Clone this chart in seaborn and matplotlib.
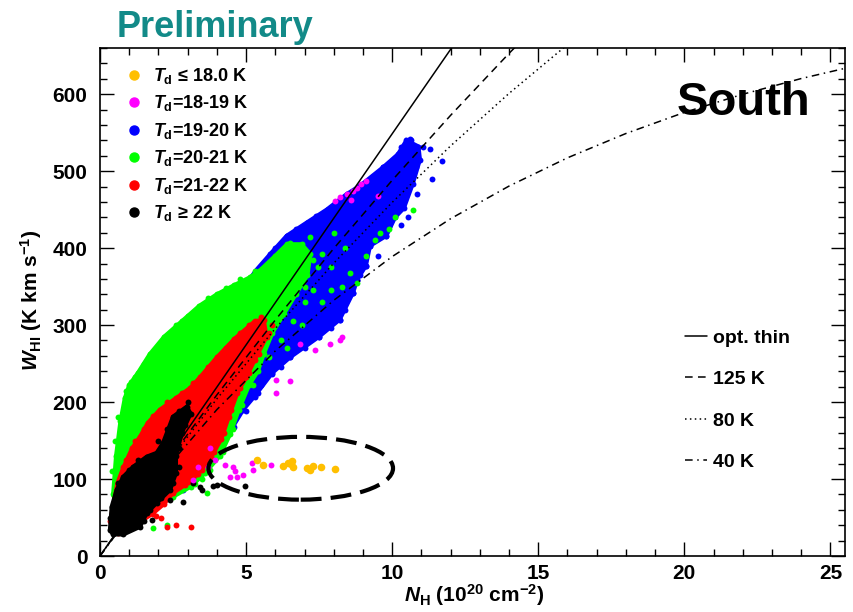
import numpy as np
import pandas as pd
import matplotlib
matplotlib.use("Agg")
import matplotlib.pyplot as plt
import seaborn as sns
from matplotlib.patches import Ellipse
from matplotlib.ticker import MultipleLocator

# ---------------------------------------------------------------- data
groups = ["le18", "18-19", "19-20", "20-21", "21-22", "ge22"]
group_labels = [r"$T_{\mathrm{d}}$ ≤ 18.0 K", r"$T_{\mathrm{d}}$=18-19 K",
                r"$T_{\mathrm{d}}$=19-20 K", r"$T_{\mathrm{d}}$=20-21 K",
                r"$T_{\mathrm{d}}$=21-22 K", r"$T_{\mathrm{d}}$ ≥ 22 K"]
group_colors = ["#ffbf00", "#ff00ff", "#0000ff", "#00ff00", "#ff0000", "#000000"]

# dense regions of each dust-temperature bin (N_H [1e20 cm^-2], W_HI [K km/s])
blue_core_nh = [1.5, 2.5, 3.5, 4.5, 5.13, 5.36, 5.82, 6.39, 7.07, 7.76, 8.44, 8.9, 9.69,
                10.2, 10.49, 10.9, 10.95, 10.7, 10.4, 10.1, 9.8, 9.24, 9.1, 8.8, 8.66,
                8.2, 7.5, 6.5, 5.9, 5.3, 4.9, 4.5, 4.0, 3.5, 3.0, 2.5, 1.5]
blue_core_w = [160, 250, 310, 340, 360, 372, 392, 416, 433, 450, 470, 481, 505,
               522, 540, 532, 515, 483, 452, 440, 416, 403, 377, 359, 342,
               307, 285, 258, 238, 208, 190, 165, 135, 110, 92, 85, 120]

green_core_nh = [0.45, 0.55, 0.7, 0.85, 1.0, 1.3, 1.7, 2.2, 2.8, 3.4, 4.0, 4.6, 5.13,
                 5.5, 6.0, 6.4, 6.9, 7.2, 7.1, 6.7, 6.3, 5.9, 5.6, 5.4, 5.1, 4.75,
                 4.45, 4.1, 3.6, 3.1, 2.5, 2.0, 1.5, 1.0, 0.6]
green_core_w = [80, 130, 175, 205, 222, 238, 262, 285, 305, 325, 340, 352, 362,
                372, 390, 405, 405, 392, 365, 340, 315, 290, 262, 240, 222, 190,
                158, 130, 108, 90, 77, 70, 66, 62, 60]

red_core_nh = [0.35, 0.6, 0.8, 1.1, 1.37, 1.64, 2.05, 2.6, 3.08, 3.42, 4.0, 4.6, 5.3,
               5.6, 5.7, 5.3, 5.0, 4.7, 4.4, 4.15, 3.8, 3.35, 2.9, 2.5, 2.2, 1.8,
               1.2, 0.6]
red_core_w = [45, 95, 115, 140, 155, 173, 190, 205, 218, 232, 258, 282, 305,
              307, 285, 255, 232, 212, 180, 152, 128, 106, 92, 82, 68, 55,
              40, 30]

black_core_nh = [0.34, 0.4, 0.57, 0.8, 1.14, 1.6, 1.94, 2.16, 2.5, 2.97, 3.1, 2.8,
                 2.6, 2.6, 2.4, 1.94, 1.6, 1.37, 0.8, 0.45]
black_core_w = [34, 64, 86, 103, 116, 129, 134, 147, 181, 194, 185, 160,
                130, 108, 86, 69, 56, 38, 28, 28]

# individual points around and outside the dense regions
blue_pts_nh = [10.6, 10.66, 11.05, 11.3, 11.7, 11.35, 10.83, 10.5, 10.0, 10.1, 9.9,
               9.8, 9.24, 9.1, 8.8, 8.66, 8.2, 7.5, 6.5, 5.9, 5.3, 5.0, 4.6,
               3.42, 2.84, 0.8, 9.69, 8.9, 7.76, 7.07, 6.39, 5.82, 5.36, 10.2, 9.6,
               6.0, 6.7, 7.4, 8.1, 9.3, 10.3, 10.85, 10.55, 10.3, 9.5, 8.9, 8.4,
               7.9, 7.0, 6.2, 5.5, 5.4, 4.1, 3.7]
blue_pts_w = [542, 540, 531, 529, 513, 490, 505, 490, 468, 446, 429,
              416, 403, 377, 359, 342, 307, 285, 258, 236, 206, 188, 168,
              105, 86, 112, 505, 481, 450, 433, 416, 390, 368, 520, 490,
              400, 425, 442, 460, 492, 532, 470, 440, 430, 390, 365, 320,
              296, 270, 245, 222, 212, 138, 118]

green_pts_nh = [10.7, 10.1, 9.9, 9.6, 9.4, 9.1, 8.55, 8.8, 8.3, 7.9, 6.5, 6.8, 7.3,
                7.6, 3.65, 3.1, 3.5, 1.8, 2.3, 8.0, 8.4, 7.9, 7.2,
                0.9, 1.05, 1.2, 1.5, 1.9, 2.4, 2.6, 3.0, 3.7, 4.3, 4.8, 5.3, 0.5,
                0.6, 0.4, 7.45, 7.3, 7.0, 6.6, 6.2, 5.8, 5.25, 4.85, 4.55, 4.2,
                3.75, 3.25, 6.9, 7.6, 6.4, 7.0]
green_pts_w = [450, 440, 425, 420, 410, 390, 368, 355, 350, 345, 407, 395, 385,
               392, 82, 121, 100, 36, 40, 420, 400, 375, 415,
               215, 226, 232, 250, 270, 290, 300, 312, 335, 348, 360, 370, 150,
               180, 110, 375, 345, 330, 305, 280, 258, 222, 196, 165, 135,
               112, 94, 300, 330, 270, 350]

red_pts_nh = [2.3, 2.6, 3.1, 1.9, 2.1, 5.9,
              5.5, 5.1, 4.8, 4.3, 3.7, 3.2, 2.8, 2.3, 1.8, 1.5, 1.2, 0.9,
              5.8, 5.45, 5.1, 4.8, 4.5, 4.25, 3.9, 3.5, 3.0]
red_pts_w = [38, 40, 38, 52, 50, 300,
             310, 300, 290, 270, 245, 225, 212, 200, 182, 165, 150, 125,
             290, 262, 238, 218, 190, 160, 135, 112, 96]

black_pts_nh = [1.77, 2.4, 2.84, 3.42, 3.5, 3.87, 4.96, 4.0, 3.2,
                3.0, 2.7, 2.3, 2.0, 1.3, 1.0, 0.6, 0.35, 2.9, 2.7, 2.7, 2.5,
                2.1, 1.7, 1.5]
black_pts_w = [47, 73, 70, 90, 86, 91, 91, 92, 95,
               200, 188, 165, 150, 125, 112, 95, 50, 170, 140, 115, 95,
               75, 60, 45]

magenta_pts_nh = [8.04, 8.2, 8.44, 8.66, 8.8, 8.95, 9.12, 9.5, 8.6,
                  6.04, 6.04, 6.5, 6.84, 7.36, 7.87, 8.2, 8.3,
                  3.18, 3.36, 3.7, 3.76, 3.93, 4.28, 4.45, 4.56, 4.62, 4.68, 4.9,
                  5.19, 5.24, 5.87]
magenta_pts_w = [461, 466, 470, 474, 478, 483, 487, 468, 462,
                 229, 212, 227, 275, 268, 275, 281, 285,
                 99, 115, 116, 140, 125, 118, 103, 116, 110, 103, 105,
                 121, 112, 118]

orange_pts_nh = [5.36, 5.58, 6.26, 6.53, 6.56, 6.6, 7.07, 7.18, 7.29, 7.58, 8.04, 6.45]
orange_pts_w = [125, 118, 117, 119, 123, 116, 114, 112, 117, 116, 113, 121]

# HI column density -> integrated intensity for different spin temperatures
curve_nh = [0, 2, 4, 6, 8, 10, 12, 14, 16, 18, 20, 22, 24, 26]
w_opt_thin = [0, 109.7, 219.4, 329.1, 438.8, 548.5, 658.2, 767.9, 877.6, 987.3,
              1097.0, 1206.7, 1316.4, 1426.1]
w_125k = [0, 107.1, 209.3, 306.6, 399.5, 488.1, 572.5, 653.0, 730.0, 803.0,
          873.0, 940.0, 1004.0, 1065.0]
w_80k = [0, 105.7, 204.2, 295.5, 380.4, 459.4, 532.8, 601.0, 664.4, 723.0,
         778.0, 828.0, 875.0, 919.0]
w_40k = [0, 102.1, 190.2, 266.4, 332.2, 389.0, 438.2, 480.6, 517.3, 548.9,
         576.3, 599.9, 620.3, 638.0]
curve_labels = ["opt. thin", "125 K", "80 K", "40 K"]

# ---------------------------------------------------------------- style
sns.set_style("ticks")
plt.rcParams["font.family"] = ["Liberation Sans", "DejaVu Sans"]
plt.rcParams["font.weight"] = "bold"
plt.rcParams["text.color"] = "black"
plt.rcParams["axes.labelcolor"] = "black"
plt.rcParams["xtick.color"] = "black"
plt.rcParams["ytick.color"] = "black"
plt.rcParams["axes.edgecolor"] = "black"
plt.rcParams["mathtext.fontset"] = "custom"
plt.rcParams["mathtext.rm"] = "Liberation Sans:bold"
plt.rcParams["mathtext.it"] = "Liberation Sans:italic:bold"
plt.rcParams["mathtext.bf"] = "Liberation Sans:bold"
plt.rcParams["mathtext.sf"] = "Liberation Sans:bold"

W, H = 854, 612
fig = plt.figure(figsize=(W / 100, H / 100), dpi=100)
L, R, T, B = 100, 845, 48, 556
ax = fig.add_axes([L / W, 1 - B / H, (R - L) / W, (B - T) / H])


def fx(px):
    return px / W


def fy(py):
    return 1 - py / H


# ---------------------------------------------------------------- scatter
cores = {
    "19-20": (blue_core_nh, blue_core_w),
    "20-21": (green_core_nh, green_core_w),
    "21-22": (red_core_nh, red_core_w),
    "ge22": (black_core_nh, black_core_w),
}
extras = {
    "19-20": (blue_pts_nh, blue_pts_w),
    "20-21": (green_pts_nh, green_pts_w),
    "21-22": (red_pts_nh, red_pts_w),
    "ge22": (black_pts_nh, black_pts_w),
    "18-19": (magenta_pts_nh, magenta_pts_w),
    "le18": (orange_pts_nh, orange_pts_w),
}
palette = dict(zip(groups, group_colors))
draw_order = ["19-20", "20-21", "21-22", "ge22", "18-19", "le18"]

rows = []
for g in draw_order:
    if g in cores:
        for n, w in zip(*cores[g]):
            rows.append((g, n, w))
    for n, w in zip(*extras[g]):
        rows.append((g, n, w))
df = pd.DataFrame(rows, columns=["group", "N_H", "W_HI"])

for z, g in enumerate(draw_order):
    if g in cores:
        ax.fill(cores[g][0], cores[g][1], color=palette[g], lw=3,
                ec=palette[g], zorder=2 + z)
    sub = df[df["group"] == g]
    size = 30 if g == "le18" else 18
    sns.scatterplot(data=sub, x="N_H", y="W_HI", color=palette[g], s=size,
                    linewidth=0, ax=ax, legend=False, zorder=2.5 + z)

# ---------------------------------------------------------------- curves
styles = [("-", None), ("--", (0, (5, 3.5))), (":", (0, (1, 2.2))),
          ("-.", (0, (5, 3, 1, 3)))]
curves = [w_opt_thin, w_125k, w_80k, w_40k]
for w, (ls, dash) in zip(curves, styles):
    sns.lineplot(x=curve_nh, y=w, color="black", lw=1.1,
                 linestyle=dash if dash else ls, ax=ax, zorder=20,
                 legend=False, sort=False)

ell = Ellipse((6.87, 114), width=6.32, height=81.6, fill=False, ec="black",
              lw=3.0, linestyle=(0, (5, 2.2)), zorder=25)
ax.add_patch(ell)

# ---------------------------------------------------------------- axes
ax.set_xlim(0, 25.5)
ax.set_ylim(0, 660)
ax.xaxis.set_major_locator(MultipleLocator(5))
ax.xaxis.set_minor_locator(MultipleLocator(1))
ax.yaxis.set_major_locator(MultipleLocator(100))
ax.yaxis.set_minor_locator(MultipleLocator(20))
ax.tick_params(which="both", direction="in", top=True, right=True,
               width=1.0, color="black")
ax.tick_params(which="major", length=10)
ax.tick_params(which="minor", length=5)
ax.tick_params(axis="x", labelsize=15, pad=6)
ax.tick_params(axis="y", labelsize=15, pad=9)
for lab in ax.get_xticklabels() + ax.get_yticklabels():
    lab.set_fontweight("bold")
for sp in ax.spines.values():
    sp.set_linewidth(1.2)
    sp.set_color("black")
ax.set_xlabel("")
ax.set_ylabel("")

fig.text(fx(474), fy(602),
         r"$N_{\mathrm{H}}$ (10$^{\mathrm{20}}$ cm$^{\mathrm{-2}}$)",
         ha="center", va="baseline", fontsize=15)
fig.text(fx(31), fy(300),
         r"$W_{\mathrm{HI}}$ (K km s$^{\mathrm{-1}}$)",
         ha="center", va="center", rotation=90, fontsize=15)

fig.text(fx(117), fy(37), "Preliminary", color="#128a88", fontsize=26,
         fontweight="bold", ha="left", va="baseline")
ax.text((677 - L) / (R - L), (B - 115) / (B - T), "South",
        transform=ax.transAxes, fontsize=34, fontweight="bold", color="black",
        ha="left", va="baseline", zorder=30)

# ---------------------------------------------------------------- legends
for i, (lab, col) in enumerate(zip(group_labels, group_colors)):
    yrow = 75 + i * 27.4
    fig.lines.append(plt.Line2D([fx(134)], [fy(yrow)], marker="o", ms=6.5,
                                color=col, mec=col, ls="none",
                                transform=fig.transFigure))
    fig.text(fx(153), fy(yrow + 6), lab, fontsize=13, ha="left", va="baseline")

for i, (lab, (ls, dash)) in enumerate(zip(curve_labels, styles)):
    yrow = 336 + i * 41.3
    fig.lines.append(plt.Line2D([fx(685), fx(707)], [fy(yrow), fy(yrow)],
                                color="black", lw=1.1,
                                linestyle=dash if dash else ls,
                                transform=fig.transFigure))
    fig.text(fx(713), fy(yrow + 7), lab, fontsize=14, ha="left", va="baseline")

fig.savefig("out.png", dpi=100)
